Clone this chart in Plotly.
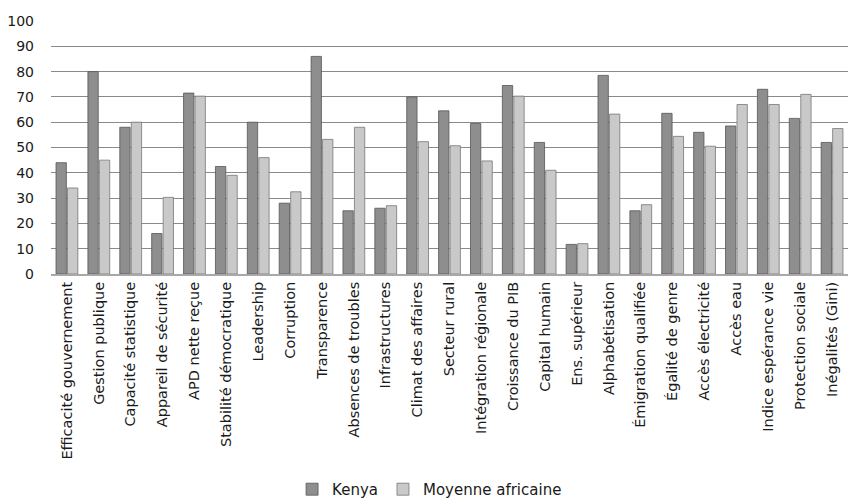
import plotly.graph_objects as go

categories = [
    "Efficacité gouvernement", "Gestion publique", "Capacité statistique",
    "Appareil de sécurité", "APD nette reçue", "Stabilité démocratique",
    "Leadership", "Corruption", "Transparence", "Absences de troubles",
    "Infrastructures", "Climat des affaires", "Secteur rural",
    "Intégration régionale", "Croissance du PIB", "Capital humain",
    "Ens. supérieur", "Alphabétisation", "Émigration qualifiée",
    "Égalité de genre", "Accès électricité", "Accès eau",
    "Indice espérance vie", "Protection sociale", "Inégalités (Gini)",
]
kenya = [44, 80, 58, 16, 71.5, 42.5, 60, 28, 86, 25, 26, 70, 64.5, 59.5,
         74.5, 52, 11.7, 78.5, 25, 63.5, 56, 58.5, 73, 61.5, 52]
moyenne = [34, 45, 60, 30.3, 70.3, 39, 46, 32.5, 53.2, 58, 27, 52.3, 50.7,
           44.7, 70.3, 41, 12, 63.2, 27.4, 54.4, 50.5, 67, 67, 71, 57.5]
y_ticks = [0, 10, 20, 30, 40, 50, 60, 70, 80, 90, 100]

fig = go.Figure()
fig.add_trace(go.Bar(x=categories, y=kenya, name="Kenya",
                     marker=dict(color="#8e8e8e", line=dict(color="#555555", width=0.8))))
fig.add_trace(go.Bar(x=categories, y=moyenne, name="Moyenne africaine",
                     marker=dict(color="#c9c9c9", line=dict(color="#777777", width=0.8))))

fig.update_layout(
    width=851, height=502,
    margin=dict(l=51, r=3, t=21, b=228),
    paper_bgcolor="white", plot_bgcolor="white",
    font=dict(family="'DejaVu Sans', sans-serif", color="#1a1a1a", size=13),
    barmode="group", bargap=0.28, bargroupgap=0.1,
    legend=dict(orientation="h", x=0.475, xanchor="center",
                yref="container", y=0.025, yanchor="middle",
                font=dict(size=15), itemwidth=30, traceorder="normal"),
    showlegend=True,
)
fig.update_xaxes(tickangle=-90, tickfont=dict(size=14.5), showline=True,
                 linecolor="#a8a8a8", linewidth=2, ticks="", showgrid=False,
                 automargin=False)
fig.update_yaxes(range=[0, 100], tickvals=y_ticks, tickfont=dict(size=14),
                 ticklabelstandoff=16, automargin=False,
                 showgrid=True, gridcolor="#8a8a8a", gridwidth=1,
                 zeroline=False, ticks="", ticklen=0)

fig.write_html("out.html")
